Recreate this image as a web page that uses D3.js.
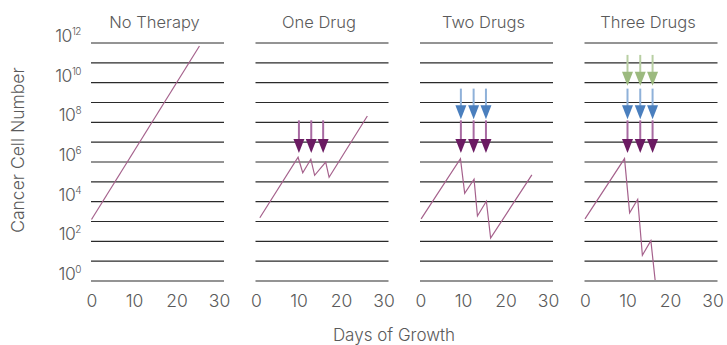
<!DOCTYPE html>
<html>
<head>
<meta charset="utf-8">
<script src="https://cdn.jsdelivr.net/npm/d3@7"></script>
<style>
  html, body { margin: 0; padding: 0; background: #fff; }
  svg text { font-family: Inter, "Liberation Sans", sans-serif; font-weight: 300; }
</style>
</head>
<body>
<svg id="chart" width="727" height="345"></svg>
<script>
// Panel titles and axes
const panelTitles = ["No Therapy", "One Drug", "Two Drugs", "Three Drugs"];
const xTickValues = [0, 10, 20, 30];
const yGridExponents = d3.range(0, 13);          // 10^0 .. 10^12
const yLabelExponents = [0, 2, 4, 6, 8, 10, 12];

// Tumour size trajectories: day and log10(cell count)
const noTherapyDays = [0, 25.4];
const noTherapyLog = [3.1, 11.85];
const oneDrugDays = [0.9, 9.9, 11.0, 12.9, 13.8, 16.4, 17.2, 26.2];
const oneDrugLog = [3.19, 6.24, 5.46, 6.14, 5.33, 6.0, 5.23, 8.32];
const twoDrugsDays = [0.15, 9.4, 10.4, 12.6, 13.4, 15.5, 16.5, 26.2];
const twoDrugsLog = [3.13, 6.17, 4.42, 5.13, 3.28, 4.02, 2.17, 5.35];
const threeDrugsDays = [0, 9.3, 10.5, 12.4, 13.5, 15.5, 16.5];
const threeDrugsLog = [3.13, 6.17, 3.44, 4.12, 1.3, 2.03, 0.05];

// Dosing days per panel (none for untreated)
const doseDays = [[], [10.1, 13.0, 15.8], [9.5, 12.5, 15.4], [10.0, 13.0, 15.9]];
// Drug arrows: log10 range each arrow spans (top -> tip)
const drugNames = ["drug1", "drug2", "drug3"];
const drugTopLog = [8.1, 9.7, 11.4];
const drugTipLog = [6.45, 8.15, 9.85];
const drugsPerPanel = [0, 1, 2, 3];

const series = [
  { days: noTherapyDays, logs: noTherapyLog },
  { days: oneDrugDays, logs: oneDrugLog },
  { days: twoDrugsDays, logs: twoDrugsLog },
  { days: threeDrugsDays, logs: threeDrugsLog }
];

const textColor = "#5a5a5a";
const headColors = ["#6b1b62", "#4a7fbe", "#9cba7f"];
const shaftColors = ["#a86aa2", "#8fb1d9", "#b8cfa3"];
const lineColor = "#a5618c";

const svg = d3.select("#chart");

const panelLeft0 = 91, panelStep = 164.5, panelWidth = 133;

const y = d3.scaleLog().domain([1, 1e12]).range([281, 43]);

function supLabel(sel, exp) {
  sel.append("tspan").attr("fill", textColor).text("10");
  sel.append("tspan").attr("fill", textColor).attr("dy", -7).attr("font-size", 10).text(exp);
}

// Y axis labels (left panel only)
yLabelExponents.forEach(e => {
  const t = svg.append("text")
    .attr("x", 81)
    .attr("y", y(Math.pow(10, e)) - 1)
    .attr("text-anchor", "end")
    .attr("fill", textColor)
    .attr("font-size", 17.5)
    .attr("letter-spacing", -0.5);
  supLabel(t, e);
});

svg.append("text")
  .attr("transform", `translate(24,${150}) rotate(-90)`)
  .attr("text-anchor", "middle")
  .attr("fill", textColor)
  .attr("font-size", 17.5)
  .text("Cancer Cell Number");

svg.append("text")
  .attr("x", 394)
  .attr("y", 341)
  .attr("text-anchor", "middle")
  .attr("fill", textColor)
  .attr("font-size", 17)
  .text("Days of Growth");

panelTitles.forEach((title, i) => {
  const left = panelLeft0 + i * panelStep;
  const x = d3.scaleLinear().domain([0, 30]).range([left + 0.5, left + 128]);
  const g = svg.append("g");

  g.append("text")
    .attr("x", left + panelWidth / 2 - 3)
    .attr("y", 28)
    .attr("text-anchor", "middle")
    .attr("fill", textColor)
    .attr("font-size", 16.5)
    .text(title);

  // horizontal decade gridlines
  g.selectAll("line.grid")
    .data(yGridExponents)
    .join("line")
    .attr("class", "grid")
    .attr("x1", left)
    .attr("x2", left + panelWidth)
    .attr("y1", d => y(Math.pow(10, d)))
    .attr("y2", d => y(Math.pow(10, d)))
    .attr("stroke", "#2a2a2a")
    .attr("stroke-width", 1.2);

  // x axis tick labels
  const xAxis = d3.axisBottom(x).tickValues(xTickValues).tickSize(0).tickPadding(0);
  const ax = g.append("g").attr("transform", "translate(0,293)").call(xAxis);
  ax.select(".domain").remove();
  ax.selectAll("text")
    .attr("font-size", 17.5)
    .attr("dy", "0.78em")
    .style("font-family", "Inter, 'Liberation Sans', sans-serif")
    .style("font-weight", 300)
    .attr("fill", textColor);

  // growth trajectory
  const s = series[i];
  const pts = s.days.map((d, k) => [d, Math.pow(10, s.logs[k])]);
  g.append("path")
    .datum(pts)
    .attr("fill", "none")
    .attr("stroke", lineColor)
    .attr("stroke-width", 1.2)
    .attr("d", d3.line().x(d => x(d[0])).y(d => y(d[1])));

  // drug dosing arrows
  for (let k = 0; k < drugsPerPanel[i]; k++) {
    doseDays[i].forEach(day => {
      const cx = x(day);
      const yTop = y(Math.pow(10, drugTopLog[k]));
      const yTip = y(Math.pow(10, drugTipLog[k]));
      const headH = 14, headW = 5.5;
      g.append("line")
        .attr("x1", cx).attr("x2", cx)
        .attr("y1", yTop).attr("y2", yTip - headH + 1)
        .attr("stroke", shaftColors[k])
        .attr("stroke-width", 2);
      g.append("path")
        .attr("d", `M${cx - headW},${yTip - headH} L${cx + headW},${yTip - headH} L${cx},${yTip} Z`)
        .attr("fill", headColors[k]);
    });
  }
});
</script>
</body>
</html>
